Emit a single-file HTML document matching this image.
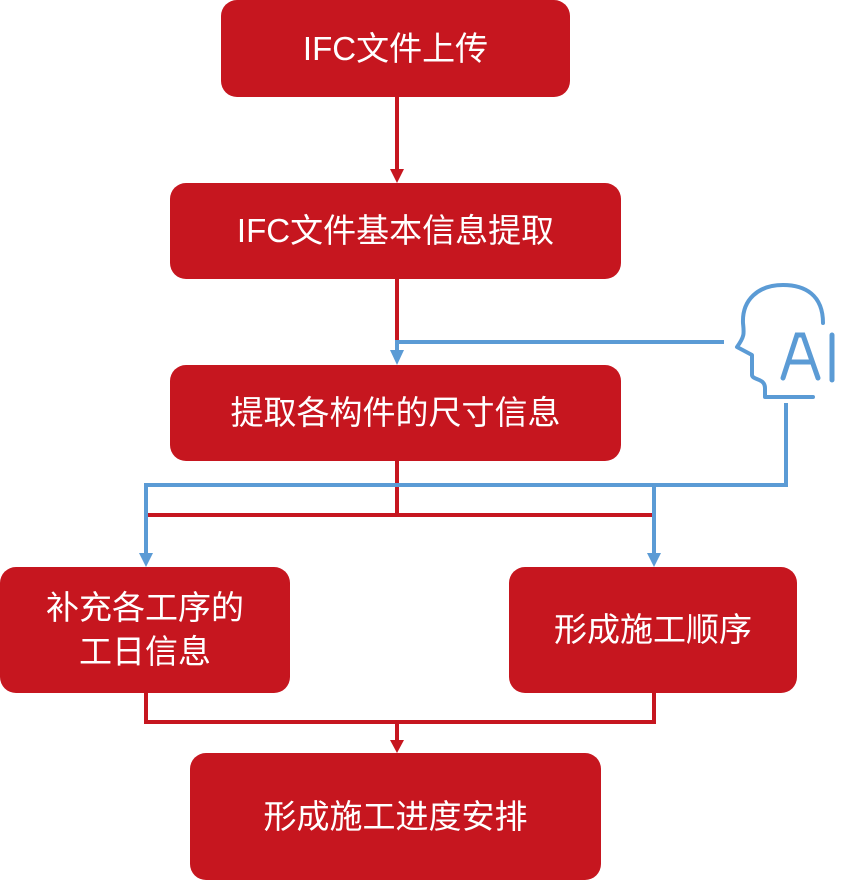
<!DOCTYPE html>
<html><head><meta charset="utf-8"><style>
body{margin:0;width:846px;height:880px;background:#fff;position:relative;overflow:hidden;font-family:"Liberation Sans","Noto Sans CJK SC",sans-serif}
.b{position:absolute;background:#C6161F;color:#fff;border-radius:16px;display:flex;align-items:center;justify-content:center;text-align:center;font-size:33px;line-height:44px}
svg{position:absolute;left:0;top:0}
</style></head><body>
<svg width="846" height="880">
<g stroke="#C6161F" stroke-width="4" fill="none">
<line x1="397" y1="97" x2="397" y2="172"/>
<line x1="397" y1="279" x2="397" y2="345"/>
<line x1="397" y1="461" x2="397" y2="515"/>
<polyline points="146,515 654,515"/>
<polyline points="146,693 146,722 654,722 654,693"/>
<line x1="397" y1="722" x2="397" y2="742"/>
</g>
<g fill="#C6161F"><polygon points="390,169 404,169 397,183"/><polygon points="390,740 404,740 397,753"/></g>
<g stroke="#5B9BD5" stroke-width="4" fill="none">
<polyline points="724,342 397,342 397,352"/>
<polyline points="786,403 786,485 146,485 146,556"/>
<line x1="654" y1="485" x2="654" y2="556"/>
<path d="M823,323 C823,295 805,285 783,285 C758,285 742,300 743,323 C744,333 745,336 737,347 L752,355 L752,375 C752,380 765,378 765,388 L765,397 L813,397" stroke-linecap="round" stroke-linejoin="round"/>
<path d="M783,378 L797,335 L803,335 L818,378 M789,362 L812,362" stroke-width="5" stroke-linecap="round"/>
<line x1="832" y1="335" x2="832" y2="380" stroke-width="5" stroke-linecap="round"/>
</g>
<g fill="#5B9BD5"><polygon points="390,350 404,350 397,365"/><polygon points="139,553 153,553 146,567"/><polygon points="647,553 661,553 654,567"/></g>
</svg>
<div class="b" style="left:221px;top:0;width:349px;height:97px">IFC文件上传</div>
<div class="b" style="left:170px;top:183px;width:451px;height:96px">IFC文件基本信息提取</div>
<div class="b" style="left:170px;top:365px;width:451px;height:96px">提取各构件的尺寸信息</div>
<div class="b" style="left:0;top:567px;width:290px;height:126px">补充各工序的<br>工日信息</div>
<div class="b" style="left:509px;top:567px;width:288px;height:126px">形成施工顺序</div>
<div class="b" style="left:190px;top:753px;width:411px;height:127px">形成施工进度安排</div>
</body></html>
